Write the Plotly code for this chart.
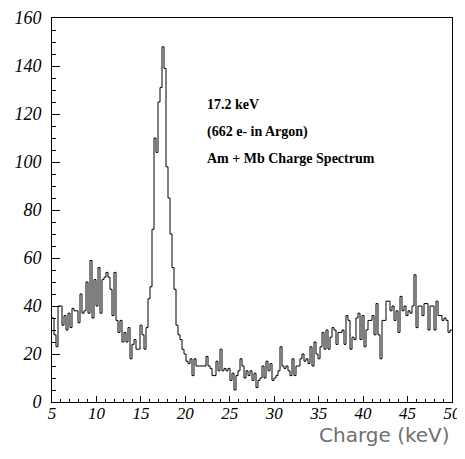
import plotly.graph_objects as go

# Histogram: 200 bins from 5 to 50 keV
x_min = 5.0
x_max = 50.0
n_bins = 200

counts = [
    35, 28, 23, 40, 40, 32, 36, 30, 37, 31,
    39, 38, 38, 33, 45, 37, 38, 50, 37, 59,
    35, 51, 40, 56, 37, 51, 52, 54, 52, 47,
    36, 54, 34, 29, 34, 25, 29, 25, 31, 18,
    24, 26, 22, 22, 32, 28, 22, 31, 43, 48,
    72, 110, 104, 125, 131, 148, 139, 98, 85, 70,
    56, 47, 32, 28, 26, 22, 20, 17, 16, 18,
    11, 18, 15, 15, 15, 15, 15, 19, 15, 14,
    11, 11, 17, 13, 22, 13, 14, 13, 14, 9,
    12, 5, 11, 13, 18, 15, 10, 13, 11, 13,
    9, 12, 6, 9, 10, 15, 10, 17, 13, 16,
    9, 10, 11, 13, 23, 15, 14, 15, 13, 11,
    18, 11, 15, 15, 18, 20, 17, 18, 16, 23,
    15, 25, 20, 18, 23, 29, 22, 30, 22, 27,
    31, 30, 24, 29, 29, 30, 24, 36, 34, 22,
    27, 26, 35, 37, 26, 36, 23, 30, 34, 34,
    36, 28, 41, 28, 18, 34, 34, 42, 42, 38,
    40, 34, 38, 29, 44, 38, 40, 36, 38, 37,
    40, 53, 31, 40, 40, 36, 41, 41, 30, 40,
    40, 30, 42, 36, 36, 34, 35, 34, 29, 30,
]

x_ticks = [5, 10, 15, 20, 25, 30, 35, 40, 45, 50]
y_ticks = [0, 20, 40, 60, 80, 100, 120, 140, 160]

note_lines = ["17.2 keV", "(662 e- in Argon)", "Am + Mb Charge Spectrum"]
note_y = [124, 112.5, 101.5]
x_title = "Charge (keV)"

bw = (x_max - x_min) / n_bins
edges = [x_min + i * bw for i in range(n_bins + 1)]
xs = edges[:]
ys = counts + [counts[-1]]

fig = go.Figure()
fig.add_trace(go.Scatter(
    x=xs, y=ys, mode="lines", line=dict(shape="hv", color="black", width=1),
    hoverinfo="skip", showlegend=False,
))

tick_font = dict(family="Liberation Serif, serif", size=18, color="black", style="italic")

# page body has an 8px default margin; the figure is placed at (8, 8)
fig.update_layout(
    width=457, height=443,
    margin=dict(l=44, r=13, t=10, b=49, autoexpand=False),
    paper_bgcolor="white", plot_bgcolor="white",
    xaxis=dict(
        range=[x_min, x_max], tickvals=x_ticks,
        ticktext=[str(v) for v in x_ticks],
        ticks="inside", ticklen=6, tickcolor="black", tickwidth=1,
        minor=dict(dtick=1, tick0=5, ticks="inside", ticklen=3, tickcolor="black"),
        showline=True, linecolor="black", linewidth=1, mirror=True,
        showgrid=False, zeroline=False, ticklabelstandoff=-4,
        automargin=False, tickfont=dict(tick_font, size=17),
    ),
    yaxis=dict(
        range=[0, 160], tickvals=y_ticks,
        ticktext=[str(v) for v in y_ticks],
        ticks="inside", ticklen=8, tickcolor="black", tickwidth=1,
        minor=dict(dtick=5, tick0=0, ticks="inside", ticklen=4, tickcolor="black"),
        showline=True, linecolor="black", linewidth=1, mirror=True,
        showgrid=False, zeroline=False, ticklabelstandoff=6,
        automargin=False, tickfont=tick_font,
    ),
)

for txt, yy in zip(note_lines, note_y):
    fig.add_annotation(
        x=22.2, y=yy, xref="x", yref="y", text="<b>" + txt + "</b>",
        showarrow=False, xanchor="left", yanchor="middle",
        font=dict(family="Liberation Serif", size=14, color="black"),
    )

fig.add_annotation(
    x=1.0, y=-0.086, xref="paper", yref="paper", text=x_title,
    showarrow=False, xanchor="right", yanchor="middle",
    font=dict(family="DejaVu Sans", size=20, color="#707070"),
)

fig.write_html("out.html")
